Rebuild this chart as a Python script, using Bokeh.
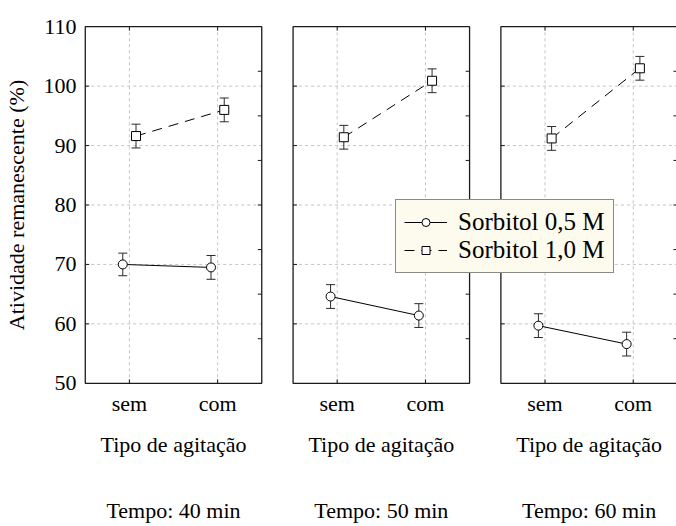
from bokeh.plotting import figure
from bokeh.models import Range1d, LinearAxis, FixedTicker, Legend, LegendItem
from bokeh.embed import file_html
from bokeh.resources import INLINE

# ---- data -------------------------------------------------------------
agitacao = ["sem", "com"]
tempos = ["Tempo: 40 min", "Tempo: 50 min", "Tempo: 60 min"]
eixo_x = "Tipo de agitação"
eixo_y = "Atividade remanescente (%)"
series = ["Sorbitol 0,5 M", "Sorbitol 1,0 M"]
y_ticks = [50, 60, 70, 80, 90, 100, 110]

# order: 40 min (sem, com), 50 min (sem, com), 60 min (sem, com)
media_05 = [70.0, 69.5, 64.6, 61.4, 59.7, 56.6]
erro_05 = [1.9, 2.0, 2.0, 2.0, 2.0, 2.0]
media_10 = [91.6, 96.0, 91.4, 100.9, 91.2, 103.0]
erro_10 = [2.0, 2.0, 2.0, 2.0, 2.0, 2.0]

# ---- layout helpers ---------------------------------------------------
FONT = "Liberation Serif"
STEP = 2.355      # one panel (2 x units) plus the gap to the next one
DODGE = 0.075     # horizontal offset of the two series around a category
TICK_X = 0.045    # inner tick length in x units
TICK_Y = 0.67     # inner tick length in y units
GRID = "#c4c4c4"

n_pan = len(tempos)
panel_left = [k * STEP + 0.5 for k in range(n_pan)]
panel_right = [l + 2 for l in panel_left]
panel_mid = [round(l + 1, 4) for l in panel_left]
cat_x = [round(l + 0.5 + j, 4) for l in panel_left for j in range(len(agitacao))]
cat_lab = [agitacao[j] for _ in range(n_pan) for j in range(len(agitacao))]
y_lo, y_hi = y_ticks[0], y_ticks[-1]

p = figure(width=676, height=526,
           x_range=Range1d(0.48, 7.2), y_range=Range1d(49.8, 110.2),
           x_axis_type=None, y_axis_type=None,
           output_backend="svg", toolbar_location=None,
           min_border_left=81, min_border_right=0,
           min_border_top=25, min_border_bottom=142,
           outline_line_color=None,
           background_fill_color="white", border_fill_color="white")

# dashed grid inside every panel
gx0, gy0, gx1, gy1 = [], [], [], []
for l, r in zip(panel_left, panel_right):
    for y in y_ticks[1:-1]:
        gx0.append(l); gx1.append(r); gy0.append(y); gy1.append(y)
for x in cat_x:
    gx0.append(x); gx1.append(x); gy0.append(y_lo); gy1.append(y_hi)
p.segment(gx0, gy0, gx1, gy1, line_color=GRID, line_width=1, line_dash="3 3")

# panel frames
p.quad(left=panel_left, right=panel_right, bottom=y_lo, top=y_hi,
       fill_color=None, line_color="#1a1a1a", line_width=1.3)

# inner ticks on the four edges of each panel
tx0, ty0, tx1, ty1 = [], [], [], []
right_marks = [y_lo + (y_hi - y_lo) * i / 8 for i in range(1, 8)]
for l, r in zip(panel_left, panel_right):
    for y in y_ticks[1:-1]:
        tx0.append(l); tx1.append(l + TICK_X); ty0.append(y); ty1.append(y)
    for y in right_marks:
        tx0.append(r); tx1.append(r - TICK_X); ty0.append(y); ty1.append(y)
for x in cat_x:
    tx0 += [x, x]; tx1 += [x, x]
    ty0 += [y_lo, y_hi]; ty1 += [y_lo + TICK_Y, y_hi - TICK_Y]
p.segment(tx0, ty0, tx1, ty1, line_color="#1a1a1a", line_width=1)

# series
renderers = []
styles = [("circle", "solid"), ("square", "10 7")]
for (media, erro), (marker, dash), shift in zip(
        [(media_05, erro_05), (media_10, erro_10)], styles, [-DODGE, DODGE]):
    xs = [x + shift for x in cat_x]
    lo = [m - e for m, e in zip(media, erro)]
    hi = [m + e for m, e in zip(media, erro)]
    line_r = p.segment(xs[0::2], media[0::2], xs[1::2], media[1::2],
                       line_color="black", line_width=1, line_dash=dash)
    p.segment(xs, lo, xs, hi, line_color="#2a2a2a", line_width=1)
    p.scatter(xs, lo, marker="dash", size=9, line_color="#2a2a2a", line_width=1)
    p.scatter(xs, hi, marker="dash", size=9, line_color="#2a2a2a", line_width=1)
    mark_r = p.scatter(xs, media, marker=marker, size=9, fill_color="white",
                       line_color="black", line_width=1)
    renderers.append([line_r, mark_r])

# axes: y on the left, three stacked label rows below
yaxis = LinearAxis(ticker=FixedTicker(ticks=y_ticks), axis_label=eixo_y,
                   major_tick_in=0, major_tick_out=0, minor_tick_in=0, minor_tick_out=0,
                   axis_line_color=None, major_label_standoff=7,
                   major_label_text_font=FONT, major_label_text_font_size="22px",
                   major_label_text_color="black",
                   axis_label_text_font=FONT, axis_label_text_font_size="22px",
                   axis_label_text_font_style="normal", axis_label_text_color="black",
                   axis_label_standoff=12)
p.add_layout(yaxis, "left")


def label_row(ticks, labels, standoff):
    ax = LinearAxis(ticker=FixedTicker(ticks=ticks),
                    major_label_overrides=dict(zip(ticks, labels)),
                    major_tick_in=0, major_tick_out=0, minor_tick_in=0, minor_tick_out=0,
                    axis_line_color=None, major_label_standoff=standoff,
                    major_label_text_font=FONT, major_label_text_font_size="22px",
                    major_label_text_color="black")
    p.add_layout(ax, "below")


label_row(cat_x, cat_lab, 6)
label_row(panel_mid, [eixo_x] * n_pan, 13)
label_row(panel_mid, tempos, 38)

legend = Legend(items=[LegendItem(label=s, renderers=r) for s, r in zip(series, renderers)],
                location=(312, 111), orientation="vertical",
                background_fill_color="#fdfaee", background_fill_alpha=1,
                border_line_color="#1a1a1a", border_line_width=1,
                label_text_font=FONT, label_text_font_size="25px", label_text_color="black",
                glyph_width=43, glyph_height=20, label_height=28,
                label_standoff=11, padding=8, spacing=0, margin=0)
p.add_layout(legend)

open("out.html", "w").write(file_html(p, INLINE))
